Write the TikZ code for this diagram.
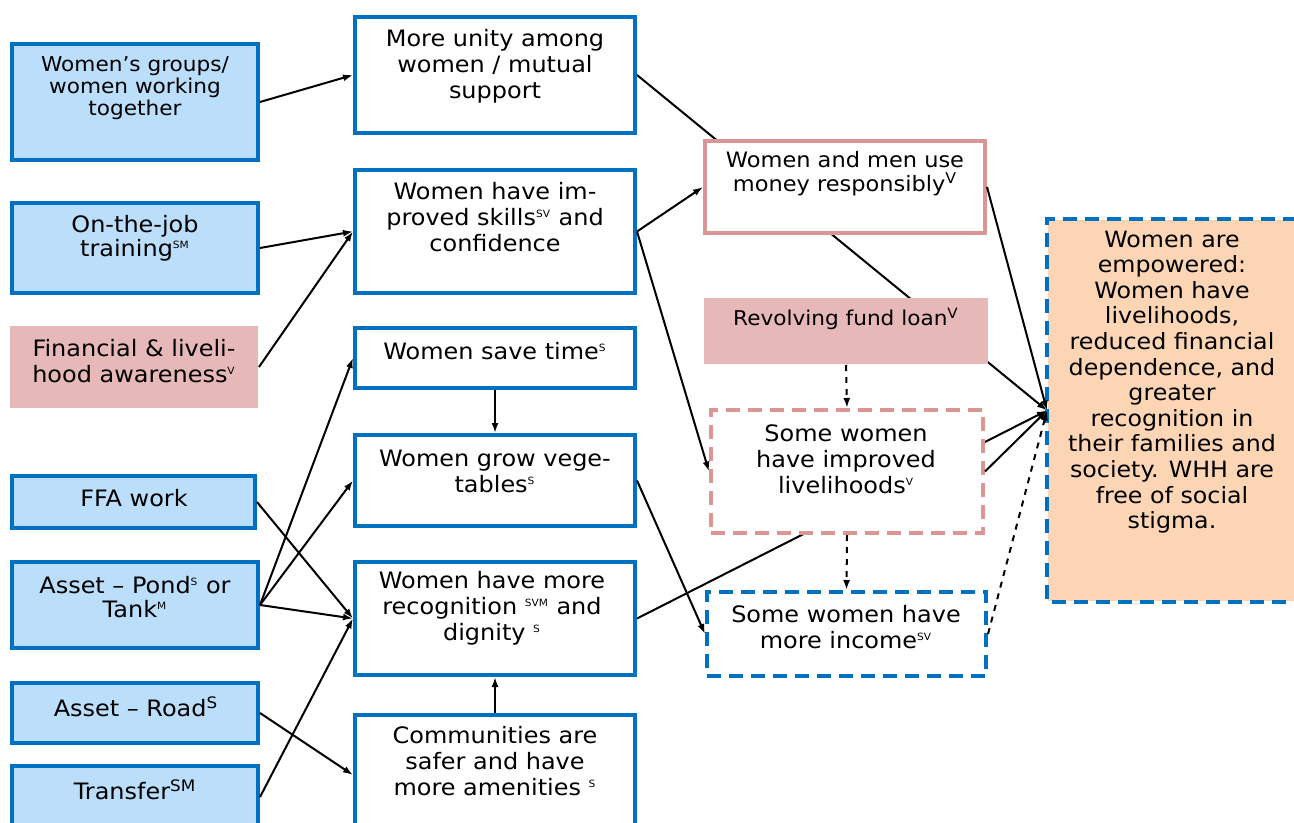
\documentclass[tikz,border=0pt]{standalone}
\usepackage{fontspec}
\setmainfont[FakeStretch=1.06]{DejaVu Sans}
\usetikzlibrary{arrows.meta,backgrounds}
\definecolor{wblue}{RGB}{0,112,192}
\definecolor{lblue}{RGB}{187,222,251}
\definecolor{pfill}{RGB}{230,185,184}
\definecolor{pline}{RGB}{217,150,148}
\definecolor{peach}{RGB}{252,213,181}
\newcommand{\ssup}[1]{\textsuperscript{\tiny #1}}

\begin{document}
\begin{tikzpicture}[x=0.5pt,y=-0.5pt,line width=1pt,>={Latex[length=5pt,width=3.5pt]},
  srcbox/.style={draw=wblue,line width=2pt,fill=lblue,inner sep=0pt,minimum width=123pt},
  midbox/.style={draw=wblue,line width=2pt,fill=white,inner sep=0pt,minimum width=140pt},
  pinkbox/.style={draw=pline,line width=2pt,fill=white,inner sep=0pt},
  pinkfill/.style={fill=pfill,inner sep=0pt},
  bluedash/.style={draw=wblue,line width=2pt,dash pattern=on 7pt off 4pt,fill=white,inner sep=0pt},
  empbox/.style={fill=peach,inner sep=0pt},
  txt/.style={align=center,inner sep=0pt,font=\fontsize{11.3}{13}\selectfont},
  smalltxt/.style={align=center,inner sep=0pt,font=\fontsize{10.2}{11}\selectfont}]
  \useasboundingbox (0,0) rectangle (1294,823);

  % inputs
  \node[srcbox,minimum height=58pt] (grp) at (135,102) {};
  \node[smalltxt] (grpT) at (135,88) {Women’s groups/\\women working\\together};
  \node[srcbox,minimum height=45pt] (job) at (135,248) {};
  \node[txt,font=\fontsize{11.3}{12}\selectfont] (jobT) at (135,238) {On-the-job\\training\ssup{SM}};
  \node[pinkfill,minimum width=124pt,minimum height=41pt] (fin) at (134,367) {};
  \node[txt] (finT) at (134,361) {Financial \& liveli-\\hood awareness\ssup{V}};
  \node[srcbox,minimum width=121.5pt,minimum height=26pt] (ffa) at (133.5,502) {};
  \node[txt] (ffaT) at (134,498) {FFA work};
  \node[srcbox,minimum height=43pt] (pond) at (135,605) {};
  \node[txt,font=\fontsize{11.3}{12}\selectfont] (pondT) at (135,597) {Asset – Pond\ssup{S} or\\Tank\ssup{M}};
  \node[srcbox,minimum height=30pt] (road) at (135,713) {};
  \node[txt] (roadT) at (136,707) {Asset – Road\textsuperscript{S}};
  \node[srcbox,minimum height=31pt] (tra) at (135,797) {};
  \node[txt] (traT) at (135,790) {Transfer\textsuperscript{SM}};

  % outcomes
  \node[midbox,minimum height=58pt] (uni) at (495,75) {};
  \node[txt] (uniT) at (495,66) {More unity among\\women / mutual\\support};
  \node[midbox,minimum height=61.5pt] (skl) at (495,231.5) {};
  \node[txt] (sklT) at (495,217) {Women have im-\\proved skills\ssup{SV} and\\confidence};
  \node[midbox,minimum height=30pt] (tim) at (495,358) {};
  \node[txt] (timT) at (495,351) {Women save time\ssup{S}};
  \node[midbox,minimum height=45.5pt] (veg) at (495,480.5) {};
  \node[txt] (vegT) at (495,471) {Women grow vege-\\tables\ssup{S}};
  \node[midbox,minimum height=56.5pt] (rec) at (495,618.5) {};
  \node[txt] (recT) at (492,608) {Women have more\\recognition \ssup{SVM} and\\dignity \ssup{S}};
  \node[midbox,minimum height=60pt] (com) at (495,775) {};
  \node[txt] (comT) at (495,761) {Communities are\\safer and have\\more amenities \ssup{S}};

  \node[pinkbox,minimum width=140pt,minimum height=46pt] (mny) at (845,187) {};
  \node[txt,font=\fontsize{10.6}{12}\selectfont] (mnyT) at (845,174) {Women and men use\\money responsibly\textsuperscript{V}};
  \node[pinkfill,minimum width=142pt,minimum height=33pt] (rev) at (846,331) {};
  \node[txt,font=\fontsize{10.2}{12}\selectfont] (revT) at (846,319) {Revolving fund loan\textsuperscript{V}};
  \node[pinkbox,dash pattern=on 7pt off 4pt,minimum width=136pt,minimum height=61.5pt] (liv) at (847,471.5) {};
  \node[txt] (livT) at (846,459) {Some women\\have improved\\livelihoods\ssup{V}};
  \node[bluedash,minimum width=139.5pt,minimum height=42pt] (inc) at (846.5,634) {};
  \node[txt] (incT) at (846,627) {Some women have\\more income\ssup{SV}};

  % goal, open on the right
  \node[empbox,minimum width=124pt,minimum height=190.5pt] (emp) at (1172,410.5) {};
  \draw[wblue,line width=2pt,dash pattern=on 7pt off 4pt] (emp.north east) -- (emp.north west) -- (emp.south west) -- (emp.south east);
  \node[txt,font=\fontsize{11.2}{12.8}\selectfont] (empT) at (1172,382) {Women are\\empowered:\\Women have\\livelihoods,\\reduced financial\\dependence, and\\greater\\recognition in\\their families and\\society. WHH are\\free of social\\stigma.};

  \draw [->](grp.east) --(uni.west);
  \draw [->](job.east) --(skl.west);
  \draw [->](fin.east) --(skl.west);
  \draw [->](ffa.east) --(rec.west);
  \draw [->](pond.east) --(tim.west);
  \draw [->](pond.east) --(veg.west);
  \draw [->](pond.east) --(rec.west);
  \draw [->](road.east) --(com.west);
  \draw [->](tra.east) --(rec.west);
  \draw [->](tim.south) --(veg.north);
  \draw [->](com.north) --(rec.south);
  \draw [->](skl.east) --(mny.west);
  \draw [->](skl.east) --(liv.west);
  \draw [->](veg.east) --(inc.west);
  \draw [->](mny.east) --(emp.west);
  \draw [->](liv.east) --(emp.west);
  \draw [->,dashed](rev.south) --(liv.north);
  \draw [->,dashed](liv.south) --(inc.north);
  \draw [->,dashed](inc.east) --(emp.west);
  \begin{scope}[on background layer]
    \draw [->,line width=1pt](uni.east) --(emp.west);
    \draw [->,line width=1pt](rec.east) --(emp.west);
  \end{scope}
\end{tikzpicture}
\end{document}
